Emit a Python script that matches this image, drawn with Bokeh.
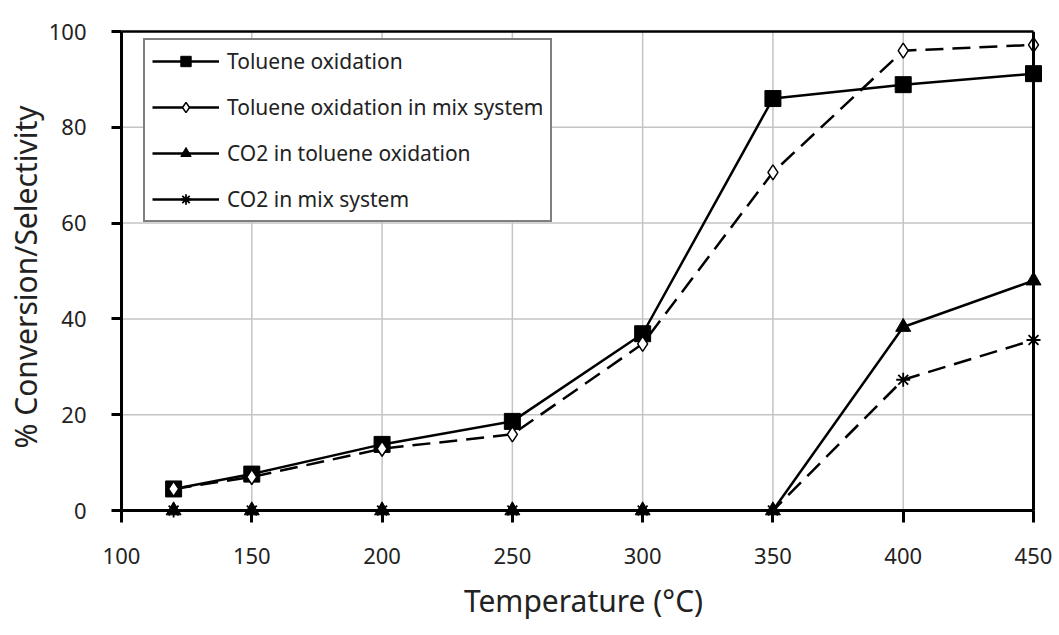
from bokeh.plotting import figure
from bokeh.models import Range1d, FixedTicker, Legend, LegendItem, LinearAxis
from bokeh.embed import file_html
from bokeh.resources import INLINE

# Temperature (°C) at which each sample was measured
temperature = [120, 150, 200, 250, 300, 350, 400, 450]

# Conversion / selectivity (%)
toluene_ox = [4.5, 7.6, 13.8, 18.6, 36.9, 86.0, 88.9, 91.2]
toluene_mix = [4.5, 7.0, 12.9, 15.9, 34.8, 70.6, 96.0, 97.2]
co2_toluene = [0, 0, 0, 0, 0, 0, 38.3, 48.0]
co2_mix = [0, 0, 0, 0, 0, 0, 27.3, 35.6]

x_ticks = [100, 150, 200, 250, 300, 350, 400, 450]
y_ticks = [0, 20, 40, 60, 80, 100]

FONT = "Noto Sans"
X0, X1 = x_ticks[0], x_ticks[-1]
Y0, Y1 = y_ticks[0], y_ticks[-1]

# The frame is a little larger than the data box on the right and bottom
# so markers sitting on the box edges are drawn whole.
PAD_PX = 12
BOX_W, BOX_H = 912, 479
x_pad = PAD_PX * (X1 - X0) / BOX_W
y_pad = PAD_PX * (Y1 - Y0) / BOX_H

p = figure(width=1059, height=635, output_backend="svg", toolbar_location=None,
           x_range=Range1d(X0, X1 + x_pad), y_range=Range1d(Y0 - y_pad, Y1),
           x_axis_location=None, y_axis_location=None,
           min_border_left=121, min_border_right=26 - PAD_PX,
           min_border_top=31, min_border_bottom=125 - PAD_PX)

p.outline_line_color = None
p.xgrid.visible = False
p.ygrid.visible = False

# grid lines, limited to the data box
GRID = "#c4c4c4"
p.segment(x0=x_ticks, y0=Y0, x1=x_ticks, y1=Y1, line_color=GRID, line_width=1.5)
p.segment(x0=X0, y0=y_ticks, x1=X1, y1=y_ticks, line_color=GRID, line_width=1.5)


def style_text(ax):
    ax.major_label_text_font = FONT
    ax.major_label_text_font_size = "22px"
    ax.major_label_text_color = "#222222"
    ax.axis_label_text_font = FONT
    ax.axis_label_text_font_size = "30px"
    ax.axis_label_text_font_style = "normal"
    ax.axis_label_text_color = "#222222"


def plain_edge(**kw):
    return LinearAxis(ticker=FixedTicker(ticks=[]), major_tick_line_color=None,
                      minor_tick_line_color=None, axis_line_color="black", **kw)


# x axis: labels and ticks hang from the frame bottom, ticks reach up to y = 0
xaxis = LinearAxis(ticker=FixedTicker(ticks=x_ticks), axis_label="Temperature (°C)",
                   axis_line_color=None, major_tick_line_width=3,
                   major_tick_in=PAD_PX, major_tick_out=0, minor_tick_line_color=None)
style_text(xaxis)
xaxis.major_label_standoff = 25
xaxis.axis_label_standoff = 13
p.add_layout(xaxis, "below")

# the x axis line itself, at y = 0
p.add_layout(plain_edge(fixed_location=Y0, bounds=(X0, X1), axis_line_width=3), "below")

yaxis = LinearAxis(ticker=FixedTicker(ticks=y_ticks), bounds=(Y0, Y1),
                   axis_label="% Conversion/Selectivity", axis_line_width=3,
                   major_tick_line_width=3, major_tick_out=10, major_tick_in=0,
                   minor_tick_line_color=None)
style_text(yaxis)
yaxis.major_label_standoff = 25
yaxis.axis_label_standoff = 0
p.add_layout(yaxis, "left")

# plain top and right edges of the box
p.add_layout(plain_edge(bounds=(X0, X1), axis_line_width=2.5), "above")
p.add_layout(plain_edge(fixed_location=X1, bounds=(Y0, Y1), axis_line_width=3), "right")

DASH = "18 9"
LW = 2.5

# series lines
l1 = p.line(temperature, toluene_ox, line_color="black", line_width=LW)
l2 = p.line(temperature, toluene_mix, line_color="black", line_width=LW, line_dash=DASH)
l3 = p.line(temperature, co2_toluene, line_color="black", line_width=LW)
l4 = p.line(temperature, co2_mix, line_color="black", line_width=LW, line_dash=DASH)

# markers
m1 = p.scatter(temperature, toluene_ox, marker="square", size=16,
               fill_color="black", line_color="black")
m2 = p.scatter(temperature, toluene_mix, marker="diamond", size=15,
               fill_color="white", line_color="black", line_width=1.5)
m3 = p.scatter(temperature, co2_toluene, marker="triangle", size=15,
               fill_color="black", line_color="black")
m4 = p.scatter(temperature, co2_mix, marker="asterisk", size=14,
               line_color="black", line_width=1.8)

# every legend entry shows a solid stroke through its marker
legend = Legend(items=[
    LegendItem(label="Toluene oxidation", renderers=[l1, m1]),
    LegendItem(label="Toluene oxidation in mix system", renderers=[l1, m2]),
    LegendItem(label="CO2 in toluene oxidation", renderers=[l1, m3]),
    LegendItem(label="CO2 in mix system", renderers=[l1, m4]),
])
legend.location = (22, 288 + PAD_PX)
legend.border_line_color = "black"
legend.border_line_width = 2
legend.background_fill_alpha = 1
legend.label_text_font = FONT
legend.label_text_font_size = "21px"
legend.label_text_color = "#222222"
legend.glyph_width = 67
legend.glyph_height = 26
legend.label_height = 26
legend.spacing = 18
legend.padding = 7
legend.label_standoff = 8
legend.margin = 0
p.add_layout(legend, "center")

open("out.html", "w").write(file_html(p, INLINE))
